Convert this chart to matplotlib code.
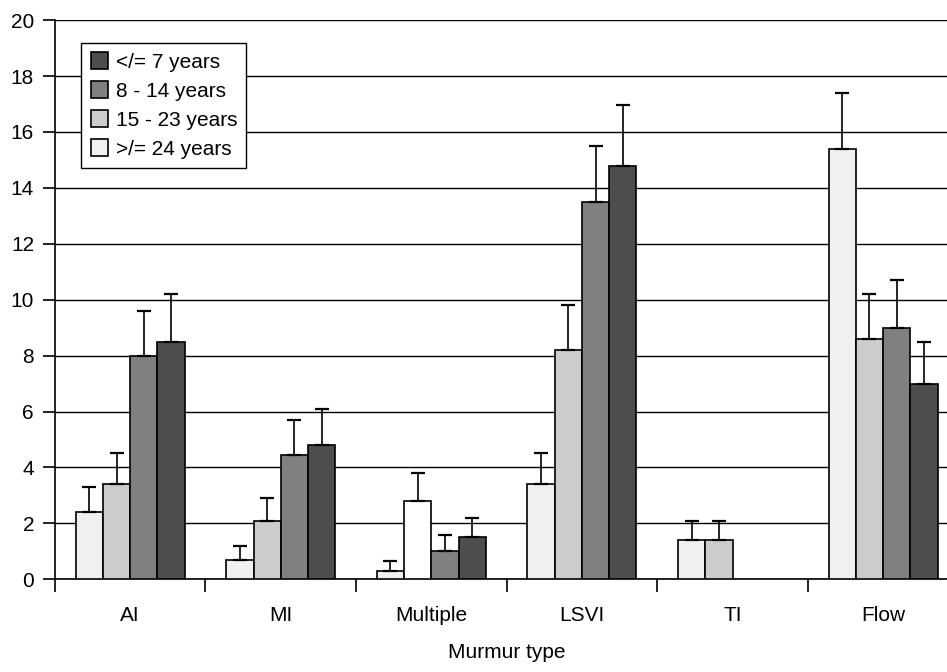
import matplotlib
matplotlib.use('Agg')
import matplotlib.pyplot as plt
import numpy as np

plt.rcParams['font.family'] = ['Liberation Sans', 'DejaVu Sans']

# Murmur types on the x axis
categories = ['AI', 'MI', 'Multiple', 'LSVI', 'TI', 'Flow']

# Age groups, drawn left to right (lightest first)
age_groups = ['>/= 24 years', '15 - 23 years', '8 - 14 years', '</= 7 years']
colors = ['#f0f0f0', '#cccccc', '#808080', '#4d4d4d']

# Bar heights per age group
ge24 = [2.4, 0.7, 0.3, 3.4, 1.4, 15.4]
y15_23 = [3.4, 2.1, 2.8, 8.2, 1.4, 8.6]
y8_14 = [8.0, 4.45, 1.0, 13.5, 0.0, 9.0]
le7 = [8.5, 4.8, 1.5, 14.8, 0.0, 7.0]

# Upper error (positive side only)
ge24_err = [0.9, 0.5, 0.35, 1.1, 0.7, 2.0]
y15_23_err = [1.1, 0.8, 1.0, 1.6, 0.7, 1.6]
y8_14_err = [1.6, 1.25, 0.6, 2.0, 0.0, 1.7]
le7_err = [1.7, 1.3, 0.7, 2.15, 0.0, 1.5]

values = [ge24, y15_23, y8_14, le7]
errors = [ge24_err, y15_23_err, y8_14_err, le7_err]

FS = 15

fig = plt.figure(figsize=(9.47, 6.72), dpi=100)
# axes run a little past the right edge of the picture, as in the original
ax = fig.add_axes([0.058, 0.138, 0.954, 0.832])

x = np.arange(len(categories))
width = 0.181
handles = []
for i, (vals, errs, col) in enumerate(zip(values, errors, colors)):
    pos = x + (i - 1.5) * width
    face = [col] * len(vals)
    if i == 1:
        face[2] = 'white'  # the Multiple bar in this group is unfilled in the original
    edges = ['black' if v > 0 else 'none' for v in vals]
    bars = ax.bar(pos, vals, width, color=face, edgecolor=edges, linewidth=1.2, zorder=3)
    handles.append(bars)
    for p, v, e in zip(pos, vals, errs):
        if v > 0 and e > 0:
            ax.errorbar(p, v, yerr=[[0], [e]], fmt='none', ecolor='black',
                        elinewidth=1.2, capsize=5, capthick=1.6, zorder=4)

ax.set_ylim(0, 20)
ax.set_xlim(-0.5, len(categories) - 0.5)
ax.set_yticks(range(0, 21, 2))
ax.yaxis.grid(True, color='black', linewidth=1.0, zorder=0)
ax.set_axisbelow(True)

ax.set_xticks(x)
ax.set_xticklabels(categories, fontsize=FS)
ax.tick_params(axis='x', length=0, pad=19)
ax.set_xticks(np.arange(-0.5, len(categories), 1.0), minor=True)
ax.tick_params(axis='x', which='minor', length=9, width=1.2, direction='out')
ax.tick_params(axis='y', length=9, width=1.2, labelsize=FS, direction='out', pad=6)
ax.set_xlabel('Murmur type', fontsize=FS, labelpad=13)

for side in ['top', 'right']:
    ax.spines[side].set_visible(False)
ax.spines['left'].set_linewidth(1.2)
ax.spines['bottom'].set_linewidth(1.2)

leg = ax.legend(handles[::-1], age_groups[::-1], loc='upper left',
                bbox_to_anchor=(0.029, 0.959), borderaxespad=0, fontsize=FS,
                frameon=True, fancybox=False, edgecolor='black', handlelength=0.85,
                handleheight=0.85, handletextpad=0.35, borderpad=0.45,
                labelspacing=0.45, framealpha=1)
leg.get_frame().set_linewidth(1.0)
leg.set_zorder(5)

plt.savefig('out.png', dpi=100)
plt.close(fig)
